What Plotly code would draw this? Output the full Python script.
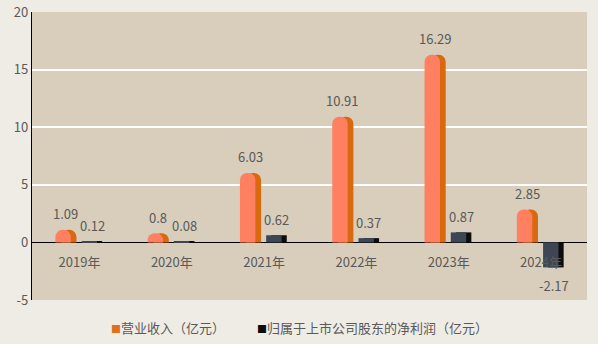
import plotly.graph_objects as go

# Data
years = ["2019年", "2020年", "2021年", "2022年", "2023年", "2024年"]
revenue = [1.09, 0.8, 6.03, 10.91, 16.29, 2.85]
net_profit = [0.12, 0.08, 0.62, 0.37, 0.87, -2.17]
y_ticks = [-5, 0, 5, 10, 15, 20]
revenue_name = "营业收入（亿元）"
profit_name = "归属于上市公司股东的净利润（亿元）"

# Style
FONT = "Noto Sans CJK SC"
TEXT = "#595959"
PLOT_BG = "#d8cebb"
PAPER_BG = "#efece5"
REV_FRONT, REV_SIDE = "#ff7f61", "#d9690f"
NP_FRONT, NP_SIDE = "#3d4654", "#0d0d0d"

x = list(range(len(years)))

fig = go.Figure()

# Pseudo-3D bars: a darker "side" bar shifted right behind each front bar
fig.add_trace(go.Bar(x=x, y=revenue, offset=-0.198, width=0.165,
                     marker=dict(color=REV_SIDE, cornerradius=7, line_width=0),
                     showlegend=False, hoverinfo="skip"))
fig.add_trace(go.Bar(x=x, y=revenue, offset=-0.262, width=0.167, name=revenue_name,
                     marker=dict(color=REV_FRONT, cornerradius=7, line_width=0),
                     showlegend=False))
fig.add_trace(go.Bar(x=x, y=net_profit, offset=0.078, width=0.167,
                     marker=dict(color=NP_SIDE, line_width=0),
                     showlegend=False, hoverinfo="skip"))
fig.add_trace(go.Bar(x=x, y=net_profit, offset=0.022, width=0.167, name=profit_name,
                     marker=dict(color=NP_FRONT, line_width=0),
                     showlegend=False))

# Value labels
annotations = []
for i, (r, p) in enumerate(zip(revenue, net_profit)):
    for v, dx in ((r, -0.152), (p, 0.135)):
        annotations.append(dict(x=i + dx, y=v, xref="x", yref="y", text=f"{v:g}",
                                showarrow=False, yanchor="middle",
                                yshift=16 if v >= 0 else -18,
                                font=dict(family=FONT, size=13, color=TEXT)))

# Legend row
legend_items = [(revenue_name, "#e0701c", 0.139), (profit_name, "#0d0d0d", 0.402)]
for name, col, lx in legend_items:
    annotations.append(dict(x=lx, y=-0.097, xref="paper", yref="paper", xanchor="left",
                            yanchor="middle", showarrow=False,
                            text=f'<span style="color:{col};font-size:10px">■</span>{name}',
                            font=dict(family=FONT, size=13, color=TEXT)))

fig.update_layout(
    width=598, height=344,
    margin=dict(l=32, r=11, t=12, b=44, autoexpand=False),
    paper_bgcolor=PAPER_BG, plot_bgcolor=PLOT_BG,
    barmode="overlay",
    font=dict(family=FONT, size=13, color=TEXT),
    annotations=annotations,
    showlegend=False,
    xaxis=dict(range=[-0.515, 5.498], tickmode="array", tickvals=x, ticktext=years,
               anchor="free", position=0.2, showgrid=False, zeroline=False,
               showline=False, ticks="", automargin=False,
               ticklabelstandoff=11,
               tickfont=dict(family=FONT, size=13, color=TEXT)),
    yaxis=dict(range=[-5, 20], tickmode="array", tickvals=y_ticks,
               ticktext=[str(t) for t in y_ticks], showgrid=True,
               gridcolor="#ffffff", gridwidth=1.5, zeroline=True,
               zerolinecolor="#000000", zerolinewidth=1.3, showline=True,
               linecolor="#000000", linewidth=1.3, ticks="", automargin=False,
               tickfont=dict(family=FONT, size=13, color=TEXT)),
)

fig.write_html("out.html")
